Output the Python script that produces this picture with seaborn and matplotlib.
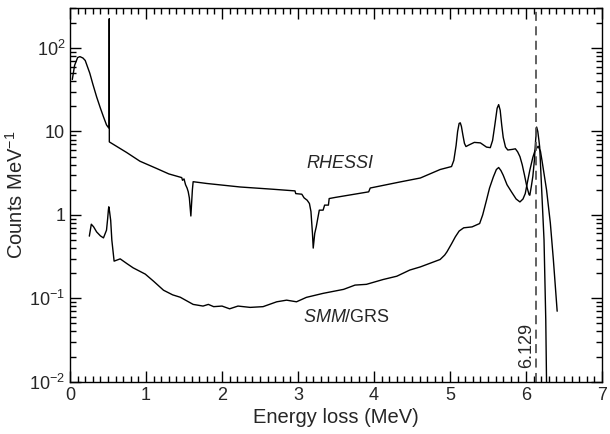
import numpy as np
import pandas as pd
import matplotlib
matplotlib.use("Agg")
import matplotlib.pyplot as plt
import matplotlib.ticker as mticker
import seaborn as sns

# ---- data ----
rhessi_x = [0.03, 0.06, 0.10, 0.13, 0.17, 0.20, 0.26, 0.30, 0.35, 0.40, 0.44, 0.48, 0.50,
            0.515, 0.516, 0.517, 0.745, 0.92, 1.14, 1.30, 1.47, 1.48, 1.50, 1.52, 1.54,
            1.555, 1.57, 1.59, 1.61, 1.62, 1.80, 2.24, 2.67, 2.96, 2.97, 3.05, 3.08, 3.12,
            3.15, 3.17, 3.19, 3.20, 3.22, 3.24, 3.26, 3.28, 3.33, 3.35, 3.40, 3.41, 3.49,
            3.93, 3.95, 4.34, 4.61, 4.87, 5.02, 5.05, 5.08, 5.10, 5.12, 5.135, 5.15, 5.17,
            5.19, 5.21, 5.25, 5.32, 5.40, 5.48, 5.53, 5.56, 5.59, 5.62, 5.64, 5.66, 5.68,
            5.70, 5.73, 5.76, 5.82, 5.86, 5.89, 5.92, 5.95, 5.98, 6.01, 6.04, 6.05, 6.07,
            6.09, 6.11, 6.125, 6.14, 6.155, 6.17, 6.18, 6.237, 6.26, 6.27, 6.275]
rhessi_y = [42, 62, 77, 79, 76, 71, 50, 37, 26, 19, 15, 12, 11.3,
            11.0, 225, 7.5, 5.6, 4.4, 3.6, 3.1, 2.8, 2.6, 2.7, 2.3, 2.1,
            1.9, 1.6, 0.97, 2.0, 2.5, 2.38, 2.16, 2.03, 1.94, 1.80, 1.77, 1.6, 1.5,
            1.37, 1.1, 0.6, 0.4, 0.6, 0.72, 0.91, 1.14, 1.14, 1.31, 1.31, 1.57, 1.62,
            1.89, 2.10, 2.48, 2.77, 3.5, 3.8, 4.5, 6.8, 10.0, 12.5, 12.7, 11.5, 9.0,
            7.2, 6.6, 6.9, 7.4, 7.3, 6.5, 6.4, 7.8, 12.0, 19.0, 21.0, 18.0, 12.0,
            8.5, 6.5, 6.0, 6.1, 6.2, 5.7, 5.0, 4.0, 3.0, 2.2, 1.75, 1.72, 2.2,
            2.9, 4.5, 7.5, 11.3, 10.0, 7.8, 6.5, 0.5, 0.055, 0.01, 0.006]

smm_x = [0.254, 0.28, 0.31, 0.35, 0.40, 0.44, 0.48, 0.495, 0.505, 0.51, 0.52, 0.535, 0.55,
         0.58, 0.66, 0.75, 0.83, 0.99, 1.10, 1.23, 1.35, 1.45, 1.62, 1.75, 1.82, 1.89,
         2.00, 2.10, 2.21, 2.37, 2.54, 2.72, 2.85, 2.98, 3.11, 3.33, 3.60, 3.75, 3.90,
         4.12, 4.30, 4.47, 4.61, 4.87, 4.93, 4.96, 5.02, 5.07, 5.12, 5.18, 5.29, 5.39,
         5.43, 5.48, 5.52, 5.57, 5.61, 5.64, 5.67, 5.70, 5.75, 5.81, 5.87, 5.92, 5.96,
         5.99, 6.02, 6.05, 6.09, 6.12, 6.16, 6.19, 6.21, 6.27, 6.32, 6.36, 6.41]
smm_y = [0.556, 0.773, 0.72, 0.625, 0.56, 0.53, 0.656, 0.9, 1.15, 1.25, 1.1, 0.86, 0.5,
         0.279, 0.297, 0.26, 0.232, 0.195, 0.16, 0.125, 0.11, 0.103, 0.0845, 0.0807, 0.0845, 0.0794,
         0.0807, 0.0748, 0.0807, 0.0778, 0.0794, 0.0908, 0.095, 0.0908, 0.1026, 0.1146, 0.128, 0.144, 0.147,
         0.168, 0.184, 0.218, 0.238, 0.292, 0.33, 0.361, 0.45, 0.546, 0.64, 0.70, 0.718, 0.788,
         1.0, 1.50, 2.1, 2.85, 3.5, 3.70, 3.4, 2.99, 2.3, 1.88, 1.55, 1.43, 1.55,
         1.80, 2.5, 3.43, 4.9, 5.96, 6.66, 5.8, 4.5, 2.0, 0.8, 0.29, 0.07]

line_energy = 6.129
x_ticks = [0, 1, 2, 3, 4, 5, 6, 7]
y_ticks = [0.01, 0.1, 1, 10, 100]
y_ticklabels = ["$10^{-2}$", "$10^{-1}$", "1", "10", "$10^{2}$"]

# ---- plotting ----
sns.set_style("ticks")
plt.rcParams["font.family"] = ["Liberation Sans", "DejaVu Sans"]
plt.rcParams["mathtext.fontset"] = "custom"
plt.rcParams["mathtext.rm"] = "Liberation Sans"
plt.rcParams["mathtext.it"] = "Liberation Sans:italic"

fig = plt.figure(figsize=(6.1, 4.34), dpi=100)
ax = fig.add_axes([0.1148, 0.1205, 0.8721, 0.8604])

df_r = pd.DataFrame({"x": rhessi_x, "y": rhessi_y})
df_s = pd.DataFrame({"x": smm_x, "y": smm_y})
sns.lineplot(data=df_r, x="x", y="y", ax=ax, color="black", lw=1.0,
             sort=False, estimator=None)
sns.lineplot(data=df_s, x="x", y="y", ax=ax, color="black", lw=1.0,
             sort=False, estimator=None)

ax.axvline(line_energy, color="#555555", lw=1.3, ls=(0, (5, 3)))

ax.set_yscale("log")
ax.set_xlim(0, 7)
ax.set_ylim(0.01, 300)

ax.set_xticks(x_ticks)
ax.set_xticklabels([str(t) for t in x_ticks])
ax.xaxis.set_minor_locator(mticker.MultipleLocator(0.1))
ax.set_yticks(y_ticks)
ax.set_yticklabels(y_ticklabels)
ax.yaxis.set_minor_locator(mticker.LogLocator(base=10, subs=np.arange(2, 10)))
ax.yaxis.set_minor_formatter(mticker.NullFormatter())

ax.tick_params(which="both", direction="in", top=True, right=True,
               color="black", width=1.0, labelsize=13)
ax.tick_params(which="major", length=8)
ax.tick_params(which="minor", length=4)
for s in ax.spines.values():
    s.set_color("black")
    s.set_linewidth(1.0)

ax.set_xlabel("Energy loss (MeV)", fontsize=14.5, labelpad=3)
ax.set_ylabel("Counts MeV$^{-1}$", fontsize=14.5, labelpad=2)

ax.text(3.55, 4.16, "RHESSI", fontsize=13, style="italic", ha="center", va="center")
ax.text(3.64, 0.0596, "$\\mathit{SMM}$/GRS", fontsize=13, ha="center", va="center")
ax.text(6.01, 0.0275, "6.129", fontsize=13, rotation=90, ha="center", va="center")

fig.savefig("out.png", dpi=100)
